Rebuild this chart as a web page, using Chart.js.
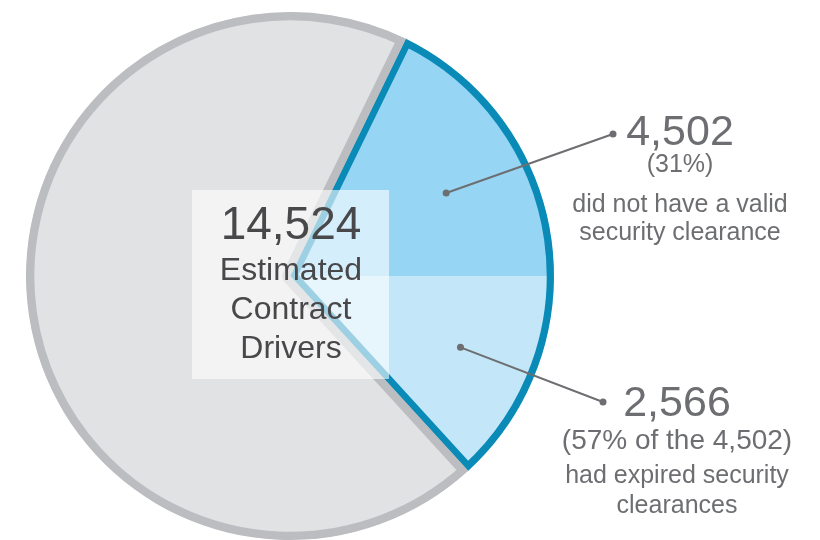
<!DOCTYPE html>
<html>
<head>
<meta charset="utf-8">
<script src="https://cdn.jsdelivr.net/npm/chart.js@4"></script>
<style>
  body { margin: 0; background: #fff; }
  #wrap { width: 820px; height: 540px; }
</style>
</head>
<body>
<div id="wrap"><canvas id="driversChart" width="820" height="540"></canvas></div>
<script>
const categories = ['Did not have a valid security clearance', 'Other contract drivers'];
const driverCounts = [4502, 10022];
const totalDrivers = 14524;
const expiredCount = 2566;
const centerLines = ['Estimated', 'Contract', 'Drivers'];
const calloutNotes = ['(31%)', '(57% of the 4,502)'];
const calloutText = [
  ['did not have a valid', 'security clearance'],
  ['had expired security', 'clearances']
];

const fmt = n => n.toLocaleString('en-US');
const FONT = '"Liberation Sans", Arial, Helvetica, sans-serif';

// blue slice: darker on top, lighter below the centre line
function sliceFill(context) {
  if (context.dataIndex !== 0) return '#e1e2e4';
  const chart = context.chart;
  const area = chart.chartArea;
  if (!area) return '#97d5f5';
  const g = chart.ctx.createLinearGradient(0, area.top, 0, area.bottom);
  g.addColorStop(0, '#97d5f5');
  g.addColorStop(0.5, '#97d5f5');
  g.addColorStop(0.5, '#c3e7f8');
  g.addColorStop(1, '#c3e7f8');
  return g;
}

// centre box, centre label, callouts
const calloutPlugin = {
  id: 'callouts',
  afterDatasetsDraw(chart) {
    const ctx = chart.ctx;
    const arc = chart.getDatasetMeta(0).data[0];
    const cx = arc.x, cy = arc.y, R = arc.outerRadius;

    ctx.save();
    // translucent white box
    ctx.fillStyle = 'rgba(255,255,255,0.6)';
    ctx.fillRect(cx - 98, cy - 86, 197, 189);

    ctx.fillStyle = '#48484a';
    ctx.textAlign = 'center';
    ctx.textBaseline = 'alphabetic';
    ctx.font = '46px ' + FONT;
    ctx.fillText(fmt(totalDrivers), cx + 1, cy - 37);
    ctx.font = '32px ' + FONT;
    centerLines.forEach((t, i) => ctx.fillText(t, cx + 1, cy + 4 + i * 39));

    // leader lines from inside the blue slice
    const anchors = [
      { ang: -28 * Math.PI / 180, r: 0.67, end: [613, 134] },
      { ang: 22.7 * Math.PI / 180, r: 0.70, end: [603, 402] }
    ];
    ctx.strokeStyle = '#6d6e71';
    ctx.fillStyle = '#6d6e71';
    ctx.lineWidth = 2;
    anchors.forEach(a => {
      const sx = cx + Math.cos(a.ang) * R * a.r;
      const sy = cy + Math.sin(a.ang) * R * a.r;
      ctx.beginPath();
      ctx.moveTo(sx, sy);
      ctx.lineTo(a.end[0], a.end[1]);
      ctx.stroke();
      [[sx, sy], a.end].forEach(p => {
        ctx.beginPath();
        ctx.arc(p[0], p[1], 3.5, 0, Math.PI * 2);
        ctx.fill();
      });
    });

    // callout text
    const blocks = [
      { x: 680, title: fmt(driverCounts[0]), ys: [145, 172, 212, 240], noteSize: 25 },
      { x: 677, title: fmt(expiredCount), ys: [416, 449, 483, 513], noteSize: 28 }
    ];
    blocks.forEach((b, i) => {
      ctx.font = '43px ' + FONT;
      ctx.fillText(b.title, b.x, b.ys[0]);
      ctx.font = b.noteSize + 'px ' + FONT;
      ctx.fillText(calloutNotes[i], b.x, b.ys[1]);
      ctx.font = '25px ' + FONT;
      ctx.fillText(calloutText[i][0], b.x, b.ys[2]);
      ctx.fillText(calloutText[i][1], b.x, b.ys[3]);
    });
    ctx.restore();
  }
};

const ctx = document.getElementById('driversChart').getContext('2d');
new Chart(ctx, {
  type: 'pie',
  data: {
    labels: categories,
    datasets: [{
      data: driverCounts,
      backgroundColor: sliceFill,
      borderColor: ['#0a8bb7', '#bcbdc0'],
      borderWidth: [7, 8],
      borderAlign: 'inner'
    }]
  },
  options: {
    responsive: false,
    animation: false,
    rotation: 26,
    layout: { padding: { top: 12, right: 240, bottom: 0, left: 0 } },
    plugins: {
      legend: { display: false },
      tooltip: { enabled: false }
    }
  },
  plugins: [calloutPlugin]
});
</script>
</body>
</html>
